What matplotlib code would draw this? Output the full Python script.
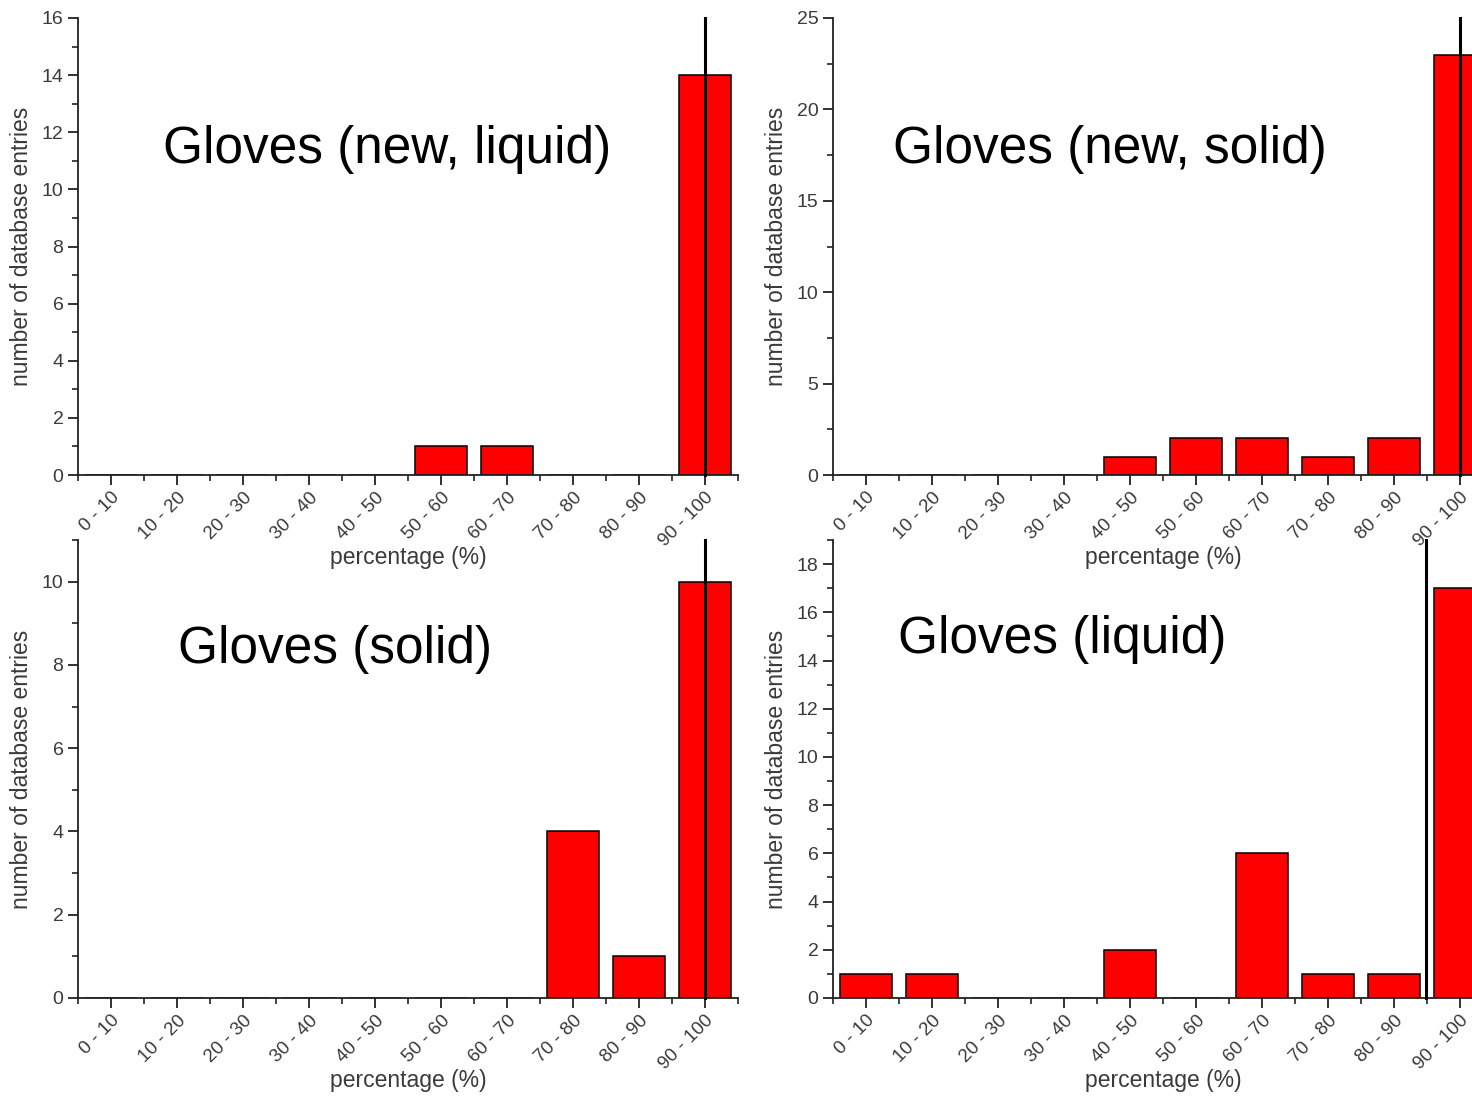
import matplotlib.pyplot as plt
from matplotlib.ticker import MultipleLocator
from matplotlib.transforms import ScaledTranslation

plt.rcParams['font.family'] = ['Liberation Sans', 'DejaVu Sans']

# --- Data ---
BINS = ["0 - 10", "10 - 20", "20 - 30", "30 - 40", "40 - 50",
        "50 - 60", "60 - 70", "70 - 80", "80 - 90", "90 - 100"]

new_liquid = [0, 0, 0, 0, 0, 1, 1, 0, 0, 14]
new_solid = [0, 0, 0, 0, 1, 2, 2, 1, 2, 23]
solid = [0, 0, 0, 0, 0, 0, 0, 4, 1, 10]
liquid = [1, 1, 0, 0, 2, 0, 6, 1, 1, 17]

TITLES = ["Gloves (new, liquid)", "Gloves (new, solid)",
          "Gloves (solid)", "Gloves (liquid)"]
Y_MAX = [16, 25, 11, 19]
Y_MAJOR = [2, 5, 2, 2]
Y_MINOR = [1, 2.5, 1, 1]
THRESHOLD_X = [9, 9, 9, 8.48]

# --- Layout (figure fractions) ---
W, H = 1472, 1099
AX_W = 660 / W
POSITIONS = [
    [78 / W, 1 - 475 / H, AX_W, 457 / H],
    [833 / W, 1 - 475 / H, AX_W, 457 / H],
    [78 / W, 1 - 998 / H, AX_W, 458 / H],
    [833 / W, 1 - 998 / H, AX_W, 458 / H],
]
TITLE_POS = [(387, 150), (1110, 150), (335, 650), (1062, 640)]

GREY = '#3a3a3a'

fig = plt.figure(figsize=(W / 100, H / 100), dpi=100)
shift = ScaledTranslation(4 / 100, -4 / 100, fig.dpi_scale_trans)

for i, values in enumerate([new_liquid, new_solid, solid, liquid]):
    ax = fig.add_axes(POSITIONS[i])
    ax.patch.set_alpha(0)
    x = list(range(len(BINS)))
    ax.bar(x, values, width=0.8, color='#ff0000', edgecolor='black',
           linewidth=1.1, zorder=2)
    ax.set_xlim(-0.5, 9.5)
    ax.set_ylim(0, Y_MAX[i])

    for side in ['top', 'right']:
        ax.spines[side].set_visible(False)
    for side in ['left', 'bottom']:
        ax.spines[side].set_linewidth(1.3)
        ax.spines[side].set_color('#222222')

    ax.set_xticks(x)
    ax.set_xticklabels(BINS, rotation=45, ha='right', rotation_mode='anchor',
                       fontsize=13.5, color=GREY)
    for lbl in ax.get_xticklabels():
        lbl.set_transform(lbl.get_transform() + shift)
    ax.xaxis.set_minor_locator(MultipleLocator(1, offset=0.5))
    ax.yaxis.set_major_locator(MultipleLocator(Y_MAJOR[i]))
    ax.yaxis.set_minor_locator(MultipleLocator(Y_MINOR[i]))
    ax.tick_params(axis='both', which='major', direction='out', length=7,
                   width=1.3, color='#222222')
    ax.tick_params(axis='both', which='minor', direction='out', length=4,
                   width=1.2, color='#222222')
    ax.tick_params(axis='y', labelsize=14, labelcolor=GREY)
    ax.tick_params(axis='x', pad=3)

    ax.set_xlabel("percentage (%)", fontsize=16.5, color=GREY, labelpad=-3)
    ax.set_ylabel("number of database entries", fontsize=16.5, color=GREY,
                  labelpad=6)

    # threshold marker line
    ax.axvline(THRESHOLD_X[i], color='black', linewidth=2.2, zorder=3,
               clip_on=False)

    tx, ty = TITLE_POS[i]
    fig.text(tx / W, 1 - ty / H, TITLES[i], fontsize=37, color='black',
             ha='center', va='center')

fig.savefig('out.png', dpi=100)
